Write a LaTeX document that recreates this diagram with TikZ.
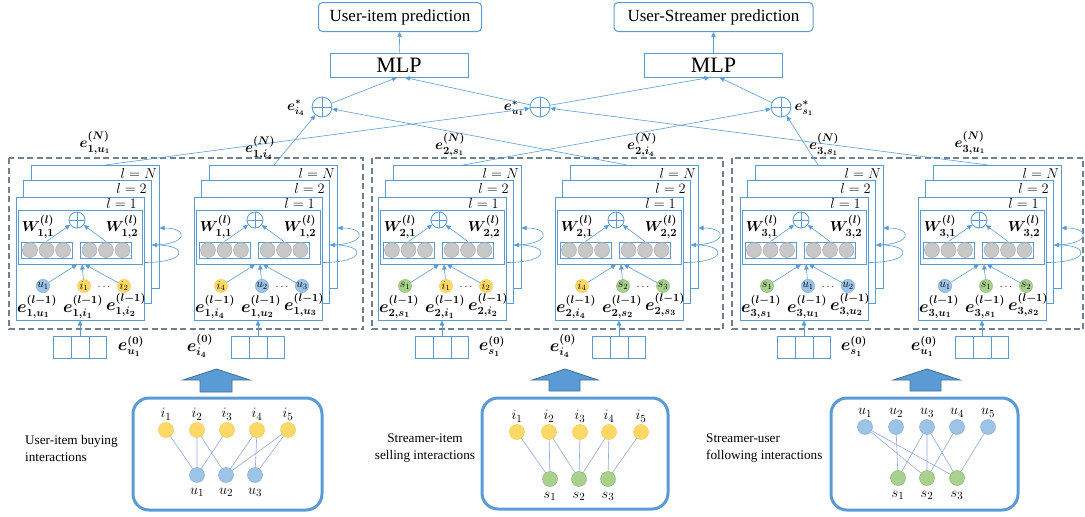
\documentclass[tikz,border=0pt]{standalone}
\usepackage{amsmath}
\usepackage{bm}
\usepackage{fontspec}
\setmainfont{Liberation Serif}
\usepackage{tikz}
\usetikzlibrary{arrows.meta}

\definecolor{lineblue}{HTML}{5B9BD5}
\definecolor{edgeblue}{HTML}{8FAADC}
\definecolor{dashgray}{HTML}{6F8090}
\definecolor{ufill}{HTML}{9DC3E6}
\definecolor{uedge}{HTML}{7FA7D4}
\definecolor{ifill}{HTML}{FFD966}
\definecolor{iedge}{HTML}{F2C14E}
\definecolor{sfill}{HTML}{A9D18E}
\definecolor{sedge}{HTML}{7FAF5F}
\definecolor{cellgray}{HTML}{C8C8C8}
\definecolor{arrowdark}{HTML}{41719C}

\tikzstyle{conn}=[lineblue, line width=0.6pt, -{Triangle[length=5pt,width=4.5pt]}]
\tikzstyle{gcnlayer}=[draw=lineblue, fill=white, line width=1pt, minimum width=128pt, minimum height=123pt, inner sep=0pt]
\tikzstyle{aggbox}=[draw=lineblue, line width=1pt, minimum width=124pt, minimum height=54pt, inner sep=0pt]
\tikzstyle{membox}=[draw=lineblue, line width=1pt, minimum width=51pt, minimum height=16pt, inner sep=0pt]
\tikzstyle{cell}=[draw=gray!70, fill=cellgray, line width=0.4pt]
\tikzstyle{sumnode}=[circle, draw=lineblue, fill=white, line width=0.8pt, minimum size=16pt, inner sep=0pt,
  path picture={\draw[lineblue, line width=0.6pt] (path picture bounding box.north) -- (path picture bounding box.south)
  (path picture bounding box.west) -- (path picture bounding box.east);}]
\tikzstyle{unode}=[circle, draw=uedge, fill=ufill, minimum size=13pt, inner sep=0pt, font=\fontsize{12}{12}\selectfont]
\tikzstyle{inode}=[circle, draw=iedge, fill=ifill, minimum size=13pt, inner sep=0pt, font=\fontsize{12}{12}\selectfont]
\tikzstyle{snode}=[circle, draw=sedge, fill=sfill, minimum size=13pt, inner sep=0pt, font=\fontsize{12}{12}\selectfont]
\tikzstyle{gu}=[circle, draw=uedge, fill=ufill, minimum size=15pt, inner sep=0pt]
\tikzstyle{gi}=[circle, draw=iedge, fill=ifill, minimum size=15pt, inner sep=0pt]
\tikzstyle{gs}=[circle, draw=sedge, fill=sfill, minimum size=15pt, inner sep=0pt]
\tikzstyle{glbl}=[inner sep=0pt, font=\fontsize{15}{15}\selectfont]
\tikzstyle{bip}=[edgeblue, line width=0.6pt]
\tikzstyle{elbl}=[inner sep=0pt, font=\fontsize{16}{16}\selectfont]
\tikzstyle{nlbl}=[inner sep=0pt, font=\fontsize{15}{15}\selectfont]
\tikzstyle{wlbl}=[inner sep=0pt, font=\fontsize{15}{15}\selectfont]
\tikzstyle{slbl}=[inner sep=0pt, font=\fontsize{14}{14}\selectfont]
\tikzstyle{llbl}=[inner sep=0pt, anchor=east, font=\fontsize{14}{14}\selectfont]
\tikzstyle{dotlbl}=[inner sep=0pt, font=\fontsize{11}{11}\selectfont]
\tikzstyle{vecbox}=[draw=lineblue, line width=1pt, minimum width=53pt, minimum height=22pt, inner sep=0pt]
\tikzstyle{vecline}=[lineblue, line width=1pt]
\tikzstyle{groupbox}=[draw=dashgray, line width=1.3pt, dash pattern=on 6pt off 3.5pt]
\tikzstyle{predbox}=[draw=lineblue, rounded corners=4pt, line width=1pt, minimum height=29pt, inner sep=0pt, font=\fontsize{17}{17}\selectfont]
\tikzstyle{mlpbox}=[draw=lineblue, line width=1pt, minimum width=138pt, minimum height=24pt, inner sep=0pt, font=\fontsize{22}{22}\selectfont]
\tikzstyle{gbox}=[draw=lineblue, line width=3pt, rounded corners=16pt, inner sep=0pt]
\tikzstyle{bigarrow}=[fill=lineblue, draw=arrowdark, line width=0.8pt]
\tikzstyle{itext}=[inner sep=0pt, font=\fontsize{13.2}{17}\selectfont]

\begin{document}
\begin{tikzpicture}[x=1pt,y=-1pt]
  \useasboundingbox (0,0) rectangle (1085,517);

  % prediction heads
  \node[predbox, minimum width=163pt] (pred1) at (400,17) {User-item prediction};
  \node[predbox, minimum width=199pt] (pred2) at (713.5,17) {User-Streamer prediction};
  \node[mlpbox] (mlp1) at (399,65) {MLP};
  \node[mlpbox] (mlp2) at (713.5,65) {MLP};
  \node[sumnode, minimum size=20pt] (pi4) at (322,107) {};
  \node[sumnode, minimum size=20pt] (pu1) at (540,107) {};
  \node[sumnode, minimum size=20pt] (ps1) at (781,107) {};
  \node[slbl] (li4) at (296,108) {$\bm{e^{*}_{i_4}}$};
  \node[slbl] (lu1) at (514,108) {$\bm{e^{*}_{u_1}}$};
  \node[slbl] (ls1) at (804,108) {$\bm{e^{*}_{s_1}}$};
  \draw[conn] (mlp1) -- (pred1);
  \draw[conn] (mlp2) -- (pred2);
  \draw[conn] (pi4) -- ([xshift=-2pt]mlp1.south);
  \draw[conn] (pu1) -- ([xshift=6pt]mlp1.south);
  \draw[conn] (pu1) -- ([xshift=-4pt]mlp2.south);
  \draw[conn] (ps1) -- ([xshift=6pt]mlp2.south);

  % dashed groups
  \draw[groupbox] (9,158) rectangle (363,329);
  \draw[groupbox] (372,158) rectangle (723,329);
  \draw[groupbox] (732,158) rectangle (1083,329);

  % group 1, user u1
  \begin{scope}[xshift=80]
    \node[gcnlayer] (lN) at (15,226.5) {};
    \node[gcnlayer] (l2) at (7.5,241.5) {};
    \node[gcnlayer] (l1) at (0,258.5) {};
    \node[llbl] (tN) at (77,173) {$l=N$};
    \node[llbl] (t2) at (67,188) {$l=2$};
    \node[llbl] (t1) at (57,203) {$l=1$};
    \node[aggbox] (agg) at (0,237) {};
    \node[sumnode] (sum) at (-3,220) {};
    \node[wlbl] (w1) at (-42,227) {$\bm{W^{(l)}_{1,1}}$};
    \node[wlbl] (w2) at (42,227) {$\bm{W^{(l)}_{1,2}}$};
    \node[membox] (mL) at (-33.5,250) {};
    \node[membox] (mR) at (26,250) {};
    \draw[cell] (-50,250) circle[radius=7.5pt] (-33.5,250) circle[radius=7.5pt] (-17,250) circle[radius=7.5pt];
    \draw[cell] (9.5,250) circle[radius=7.5pt] (26,250) circle[radius=7.5pt] (42.5,250) circle[radius=7.5pt];
    \draw[conn] (mL.north) -- (sum);
    \draw[conn] (mR.north) -- (sum);
    \node[unode] (a) at (-37,286) {$u_1$};
    \node[inode] (b) at (4,286) {$i_1$};
    \node[dotlbl] (d) at (25,287) {$\dots$};
    \node[inode] (c) at (44,286) {$i_2$};
    \node[elbl] (ea) at (-43,307) {$\bm{e^{(l-1)}_{1,u_1}}$};
    \node[elbl] (eb) at (3,307) {$\bm{e^{(l-1)}_{1,i_1}}$};
    \node[elbl] (ec) at (46,305) {$\bm{e^{(l-1)}_{1,i_2}}$};
    \draw[conn] (a) -- ([xshift=-3pt]agg.south);
    \draw[conn] (b) -- ([xshift=2pt]agg.south);
    \draw[conn] (c) -- ([xshift=5pt]agg.south);
    \draw[conn] ([yshift=-4pt]l1.east) .. controls +(44,0) and +(36,0) .. ([yshift=-3.5pt]l2.east);
    \draw[conn] ([yshift=-3.5pt]l2.east) .. controls +(36,0) and +(30,0) .. ([yshift=-1.5pt]lN.east);
    \node[vecbox] (v) at (0,347) {};
    \draw[vecline] (v.north) ++(-9,0) -- ++(0,22) (v.north) ++(9,0) -- ++(0,22);
    \draw[conn] (v) -- (l1);
    \node[elbl] (v0) at (51,346) {$\bm{e^{(0)}_{u_1}}$};
    \coordinate (t1a) at (25,165);
  \end{scope}

  % group 1, item i4
  \begin{scope}[xshift=258]
    \node[gcnlayer] (lN) at (15,226.5) {};
    \node[gcnlayer] (l2) at (7.5,241.5) {};
    \node[gcnlayer] (l1) at (0,258.5) {};
    \node[llbl] (tN) at (77,173) {$l=N$};
    \node[llbl] (t2) at (67,188) {$l=2$};
    \node[llbl] (t1) at (57,203) {$l=1$};
    \node[aggbox] (agg) at (0,237) {};
    \node[sumnode] (sum) at (-3,220) {};
    \node[wlbl] (w1) at (-42,227) {$\bm{W^{(l)}_{1,1}}$};
    \node[wlbl] (w2) at (42,227) {$\bm{W^{(l)}_{1,2}}$};
    \node[membox] (mL) at (-33.5,250) {};
    \node[membox] (mR) at (26,250) {};
    \draw[cell] (-50,250) circle[radius=7.5pt] (-33.5,250) circle[radius=7.5pt] (-17,250) circle[radius=7.5pt];
    \draw[cell] (9.5,250) circle[radius=7.5pt] (26,250) circle[radius=7.5pt] (42.5,250) circle[radius=7.5pt];
    \draw[conn] (mL.north) -- (sum);
    \draw[conn] (mR.north) -- (sum);
    \node[inode] (a) at (-37,286) {$i_4$};
    \node[unode] (b) at (4,286) {$u_2$};
    \node[dotlbl] (d) at (25,287) {$\dots$};
    \node[unode] (c) at (44,286) {$u_3$};
    \node[elbl] (ea) at (-43,307) {$\bm{e^{(l-1)}_{1,i_4}}$};
    \node[elbl] (eb) at (3,307) {$\bm{e^{(l-1)}_{1,u_2}}$};
    \node[elbl] (ec) at (46,305) {$\bm{e^{(l-1)}_{1,u_3}}$};
    \draw[conn] (a) -- ([xshift=-3pt]agg.south);
    \draw[conn] (b) -- ([xshift=2pt]agg.south);
    \draw[conn] (c) -- ([xshift=5pt]agg.south);
    \draw[conn] ([yshift=-4pt]l1.east) .. controls +(44,0) and +(36,0) .. ([yshift=-3.5pt]l2.east);
    \draw[conn] ([yshift=-3.5pt]l2.east) .. controls +(36,0) and +(30,0) .. ([yshift=-1.5pt]lN.east);
    \node[vecbox] (v) at (0,347) {};
    \draw[vecline] (v.north) ++(-9,0) -- ++(0,22) (v.north) ++(9,0) -- ++(0,22);
    \draw[conn] (v) -- (l1);
    \node[elbl] (v0) at (-58,346) {$\bm{e^{(0)}_{i_4}}$};
    \coordinate (t1b) at (16,165);
  \end{scope}

  % group 2, streamer s1
  \begin{scope}[xshift=442]
    \node[gcnlayer] (lN) at (15,226.5) {};
    \node[gcnlayer] (l2) at (7.5,241.5) {};
    \node[gcnlayer] (l1) at (0,258.5) {};
    \node[llbl] (tN) at (77,173) {$l=N$};
    \node[llbl] (t2) at (67,188) {$l=2$};
    \node[llbl] (t1) at (57,203) {$l=1$};
    \node[aggbox] (agg) at (0,237) {};
    \node[sumnode] (sum) at (-3,220) {};
    \node[wlbl] (w1) at (-42,227) {$\bm{W^{(l)}_{2,1}}$};
    \node[wlbl] (w2) at (42,227) {$\bm{W^{(l)}_{2,2}}$};
    \node[membox] (mL) at (-33.5,250) {};
    \node[membox] (mR) at (26,250) {};
    \draw[cell] (-50,250) circle[radius=7.5pt] (-33.5,250) circle[radius=7.5pt] (-17,250) circle[radius=7.5pt];
    \draw[cell] (9.5,250) circle[radius=7.5pt] (26,250) circle[radius=7.5pt] (42.5,250) circle[radius=7.5pt];
    \draw[conn] (mL.north) -- (sum);
    \draw[conn] (mR.north) -- (sum);
    \node[snode] (a) at (-37,286) {$s_1$};
    \node[inode] (b) at (4,286) {$i_1$};
    \node[dotlbl] (d) at (25,287) {$\dots$};
    \node[inode] (c) at (44,286) {$i_2$};
    \node[elbl] (ea) at (-43,307) {$\bm{e^{(l-1)}_{2,s_1}}$};
    \node[elbl] (eb) at (3,307) {$\bm{e^{(l-1)}_{2,i_1}}$};
    \node[elbl] (ec) at (46,305) {$\bm{e^{(l-1)}_{2,i_2}}$};
    \draw[conn] (a) -- ([xshift=-3pt]agg.south);
    \draw[conn] (b) -- ([xshift=2pt]agg.south);
    \draw[conn] (c) -- ([xshift=5pt]agg.south);
    \draw[conn] ([yshift=-4pt]l1.east) .. controls +(44,0) and +(36,0) .. ([yshift=-3.5pt]l2.east);
    \draw[conn] ([yshift=-3.5pt]l2.east) .. controls +(36,0) and +(30,0) .. ([yshift=-1.5pt]lN.east);
    \node[vecbox] (v) at (0,347) {};
    \draw[vecline] (v.north) ++(-9,0) -- ++(0,22) (v.north) ++(9,0) -- ++(0,22);
    \draw[conn] (v) -- (l1);
    \node[elbl] (v0) at (50,346) {$\bm{e^{(0)}_{s_1}}$};
    \coordinate (t2a) at (21,165);
  \end{scope}

  % group 2, item i4
  \begin{scope}[xshift=619]
    \node[gcnlayer] (lN) at (15,226.5) {};
    \node[gcnlayer] (l2) at (7.5,241.5) {};
    \node[gcnlayer] (l1) at (0,258.5) {};
    \node[llbl] (tN) at (77,173) {$l=N$};
    \node[llbl] (t2) at (67,188) {$l=2$};
    \node[llbl] (t1) at (57,203) {$l=1$};
    \node[aggbox] (agg) at (0,237) {};
    \node[sumnode] (sum) at (-3,220) {};
    \node[wlbl] (w1) at (-42,227) {$\bm{W^{(l)}_{2,1}}$};
    \node[wlbl] (w2) at (42,227) {$\bm{W^{(l)}_{2,2}}$};
    \node[membox] (mL) at (-33.5,250) {};
    \node[membox] (mR) at (26,250) {};
    \draw[cell] (-50,250) circle[radius=7.5pt] (-33.5,250) circle[radius=7.5pt] (-17,250) circle[radius=7.5pt];
    \draw[cell] (9.5,250) circle[radius=7.5pt] (26,250) circle[radius=7.5pt] (42.5,250) circle[radius=7.5pt];
    \draw[conn] (mL.north) -- (sum);
    \draw[conn] (mR.north) -- (sum);
    \node[inode] (a) at (-37,286) {$i_4$};
    \node[snode] (b) at (4,286) {$s_2$};
    \node[dotlbl] (d) at (25,287) {$\dots$};
    \node[snode] (c) at (44,286) {$s_3$};
    \node[elbl] (ea) at (-43,307) {$\bm{e^{(l-1)}_{2,i_4}}$};
    \node[elbl] (eb) at (3,307) {$\bm{e^{(l-1)}_{2,s_2}}$};
    \node[elbl] (ec) at (46,305) {$\bm{e^{(l-1)}_{2,s_3}}$};
    \draw[conn] (a) -- ([xshift=-3pt]agg.south);
    \draw[conn] (b) -- ([xshift=2pt]agg.south);
    \draw[conn] (c) -- ([xshift=5pt]agg.south);
    \draw[conn] ([yshift=-4pt]l1.east) .. controls +(44,0) and +(36,0) .. ([yshift=-3.5pt]l2.east);
    \draw[conn] ([yshift=-3.5pt]l2.east) .. controls +(36,0) and +(30,0) .. ([yshift=-1.5pt]lN.east);
    \node[vecbox] (v) at (0,347) {};
    \draw[vecline] (v.north) ++(-9,0) -- ++(0,22) (v.north) ++(9,0) -- ++(0,22);
    \draw[conn] (v) -- (l1);
    \node[elbl] (v0) at (-56,346) {$\bm{e^{(0)}_{i_4}}$};
    \coordinate (t2b) at (8,165);
  \end{scope}

  % group 3, streamer s1
  \begin{scope}[xshift=804]
    \node[gcnlayer] (lN) at (15,226.5) {};
    \node[gcnlayer] (l2) at (7.5,241.5) {};
    \node[gcnlayer] (l1) at (0,258.5) {};
    \node[llbl] (tN) at (77,173) {$l=N$};
    \node[llbl] (t2) at (67,188) {$l=2$};
    \node[llbl] (t1) at (57,203) {$l=1$};
    \node[aggbox] (agg) at (0,237) {};
    \node[sumnode] (sum) at (-3,220) {};
    \node[wlbl] (w1) at (-42,227) {$\bm{W^{(l)}_{3,1}}$};
    \node[wlbl] (w2) at (42,227) {$\bm{W^{(l)}_{3,2}}$};
    \node[membox] (mL) at (-33.5,250) {};
    \node[membox] (mR) at (26,250) {};
    \draw[cell] (-50,250) circle[radius=7.5pt] (-33.5,250) circle[radius=7.5pt] (-17,250) circle[radius=7.5pt];
    \draw[cell] (9.5,250) circle[radius=7.5pt] (26,250) circle[radius=7.5pt] (42.5,250) circle[radius=7.5pt];
    \draw[conn] (mL.north) -- (sum);
    \draw[conn] (mR.north) -- (sum);
    \node[snode] (a) at (-37,286) {$s_1$};
    \node[unode] (b) at (4,286) {$u_1$};
    \node[dotlbl] (d) at (25,287) {$\dots$};
    \node[unode] (c) at (44,286) {$u_2$};
    \node[elbl] (ea) at (-43,307) {$\bm{e^{(l-1)}_{3,s_1}}$};
    \node[elbl] (eb) at (3,307) {$\bm{e^{(l-1)}_{3,u_1}}$};
    \node[elbl] (ec) at (46,305) {$\bm{e^{(l-1)}_{3,u_2}}$};
    \draw[conn] (a) -- ([xshift=-3pt]agg.south);
    \draw[conn] (b) -- ([xshift=2pt]agg.south);
    \draw[conn] (c) -- ([xshift=5pt]agg.south);
    \draw[conn] ([yshift=-4pt]l1.east) .. controls +(44,0) and +(36,0) .. ([yshift=-3.5pt]l2.east);
    \draw[conn] ([yshift=-3.5pt]l2.east) .. controls +(36,0) and +(30,0) .. ([yshift=-1.5pt]lN.east);
    \node[vecbox] (v) at (0,347) {};
    \draw[vecline] (v.north) ++(-9,0) -- ++(0,22) (v.north) ++(9,0) -- ++(0,22);
    \draw[conn] (v) -- (l1);
    \node[elbl] (v0) at (50,346) {$\bm{e^{(0)}_{s_1}}$};
    \coordinate (t3a) at (14,165);
  \end{scope}

  % group 3, user u1
  \begin{scope}[xshift=982]
    \node[gcnlayer] (lN) at (15,226.5) {};
    \node[gcnlayer] (l2) at (7.5,241.5) {};
    \node[gcnlayer] (l1) at (0,258.5) {};
    \node[llbl] (tN) at (77,173) {$l=N$};
    \node[llbl] (t2) at (67,188) {$l=2$};
    \node[llbl] (t1) at (57,203) {$l=1$};
    \node[aggbox] (agg) at (0,237) {};
    \node[sumnode] (sum) at (-3,220) {};
    \node[wlbl] (w1) at (-42,227) {$\bm{W^{(l)}_{3,1}}$};
    \node[wlbl] (w2) at (42,227) {$\bm{W^{(l)}_{3,2}}$};
    \node[membox] (mL) at (-33.5,250) {};
    \node[membox] (mR) at (26,250) {};
    \draw[cell] (-50,250) circle[radius=7.5pt] (-33.5,250) circle[radius=7.5pt] (-17,250) circle[radius=7.5pt];
    \draw[cell] (9.5,250) circle[radius=7.5pt] (26,250) circle[radius=7.5pt] (42.5,250) circle[radius=7.5pt];
    \draw[conn] (mL.north) -- (sum);
    \draw[conn] (mR.north) -- (sum);
    \node[unode] (a) at (-37,286) {$u_1$};
    \node[snode] (b) at (4,286) {$s_1$};
    \node[dotlbl] (d) at (25,287) {$\dots$};
    \node[snode] (c) at (44,286) {$s_2$};
    \node[elbl] (ea) at (-43,307) {$\bm{e^{(l-1)}_{3,u_1}}$};
    \node[elbl] (eb) at (3,307) {$\bm{e^{(l-1)}_{3,s_1}}$};
    \node[elbl] (ec) at (46,305) {$\bm{e^{(l-1)}_{3,s_2}}$};
    \draw[conn] (a) -- ([xshift=-3pt]agg.south);
    \draw[conn] (b) -- ([xshift=2pt]agg.south);
    \draw[conn] (c) -- ([xshift=5pt]agg.south);
    \draw[conn] ([yshift=-4pt]l1.east) .. controls +(44,0) and +(36,0) .. ([yshift=-3.5pt]l2.east);
    \draw[conn] ([yshift=-3.5pt]l2.east) .. controls +(36,0) and +(30,0) .. ([yshift=-1.5pt]lN.east);
    \node[vecbox] (v) at (0,347) {};
    \draw[vecline] (v.north) ++(-9,0) -- ++(0,22) (v.north) ++(9,0) -- ++(0,22);
    \draw[conn] (v) -- (l1);
    \node[elbl] (v0) at (-58,346) {$\bm{e^{(0)}_{u_1}}$};
    \coordinate (t3b) at (6,165);
  \end{scope}

  % final-layer outputs into the sums
  \draw[conn] (t1a) -- (pu1);
  \draw[conn] (t1b) -- (pi4);
  \draw[conn] (t2a) -- (ps1);
  \draw[conn] (t2b) -- (pi4);
  \draw[conn] (t3a) -- (ps1);
  \draw[conn] (t3b) -- (pu1);
  \node[nlbl] (n1a) at (95,143) {$\bm{e^{(N)}_{1,u_1}}$};
  \node[nlbl] (n1b) at (260,148) {$\bm{e^{(N)}_{1,i_4}}$};
  \node[nlbl] (n2a) at (450,145) {$\bm{e^{(N)}_{2,s_1}}$};
  \node[nlbl] (n2b) at (642,145) {$\bm{e^{(N)}_{2,i_4}}$};
  \node[nlbl] (n3a) at (824,145) {$\bm{e^{(N)}_{3,s_1}}$};
  \node[nlbl] (n3b) at (970,143) {$\bm{e^{(N)}_{3,u_1}}$};

  % block arrows
  \draw[bigarrow] (216.5,369) -- (250,380) -- (232,380) -- (232,392) -- (200,392) -- (200,380) -- (183,380) -- cycle;
  \draw[bigarrow] (565,369) -- (598,380) -- (580,380) -- (580,391) -- (549,391) -- (549,380) -- (532,380) -- cycle;
  \draw[bigarrow] (927,369) -- (960,380) -- (941,380) -- (941,391) -- (910,391) -- (910,380) -- (893,380) -- cycle;

  % user-item graph
  \node[gbox, minimum width=189pt, minimum height=112pt] (g1) at (227.5,454) {};
  \node[gi, label={[glbl, label distance=2pt]above:$i_1$}] (x1) at (166,430) {};
  \node[gi, label={[glbl, label distance=2pt]above:$i_2$}] (x2) at (197,430) {};
  \node[gi, label={[glbl, label distance=2pt]above:$i_3$}] (x3) at (227,430) {};
  \node[gi, label={[glbl, label distance=2pt]above:$i_4$}] (x4) at (257,430) {};
  \node[gi, label={[glbl, label distance=2pt]above:$i_5$}] (x5) at (288,430) {};
  \node[gu, label={[glbl, label distance=5pt]below:$u_1$}] (y1) at (197,475) {};
  \node[gu, label={[glbl, label distance=5pt]below:$u_2$}] (y2) at (226,475) {};
  \node[gu, label={[glbl, label distance=5pt]below:$u_3$}] (y3) at (255,475) {};
  \draw[bip] (x1) -- (y1) (x2) -- (y1) (x3) -- (y1) (x2) -- (y2) (x4) -- (y2) (x5) -- (y2) (x4) -- (y3) (x5) -- (y3);
  \node[itext, align=left, anchor=west] (d1) at (25,448.5) {User-item buying\\interactions};

  % streamer-item graph
  \node[gbox, minimum width=186pt, minimum height=111pt] (g2) at (575,453.5) {};
  \node[gi, label={[glbl, label distance=2pt]above:$i_1$}] (x1) at (517,432) {};
  \node[gi, label={[glbl, label distance=2pt]above:$i_2$}] (x2) at (549,432) {};
  \node[gi, label={[glbl, label distance=2pt]above:$i_3$}] (x3) at (580,432) {};
  \node[gi, label={[glbl, label distance=2pt]above:$i_4$}] (x4) at (609,432) {};
  \node[gi, label={[glbl, label distance=2pt]above:$i_5$}] (x5) at (641,432) {};
  \node[gs, label={[glbl, label distance=5pt]below:$s_1$}] (y1) at (550,479) {};
  \node[gs, label={[glbl, label distance=5pt]below:$s_2$}] (y2) at (579,479) {};
  \node[gs, label={[glbl, label distance=5pt]below:$s_3$}] (y3) at (608,479) {};
  \draw[bip] (x1) -- (y1) (x2) -- (y1) (x2) -- (y2) (x3) -- (y2) (x4) -- (y2) (x4) -- (y3) (x5) -- (y3);
  \node[itext, align=center] (d2) at (425,448.5) {Streamer-item\\selling interactions};

  % streamer-user graph
  \node[gbox, minimum width=187pt, minimum height=112pt] (g3) at (924.5,454) {};
  \node[gu, label={[glbl, label distance=2pt]above:$u_1$}] (x1) at (865,427) {};
  \node[gu, label={[glbl, label distance=2pt]above:$u_2$}] (x2) at (896,427) {};
  \node[gu, label={[glbl, label distance=2pt]above:$u_3$}] (x3) at (927,427) {};
  \node[gu, label={[glbl, label distance=2pt]above:$u_4$}] (x4) at (957,427) {};
  \node[gu, label={[glbl, label distance=2pt]above:$u_5$}] (x5) at (988,427) {};
  \node[gs, label={[glbl, label distance=5pt]below:$s_1$}] (y1) at (898,478) {};
  \node[gs, label={[glbl, label distance=5pt]below:$s_2$}] (y2) at (927,478) {};
  \node[gs, label={[glbl, label distance=5pt]below:$s_3$}] (y3) at (957,478) {};
  \draw[bip] (x1) -- (y2) (x1) -- (y3) (x2) -- (y1) (x3) -- (y1) (x3) -- (y2) (x3) -- (y3) (x4) -- (y2) (x5) -- (y3);
  \node[itext, align=left, anchor=west] (d3) at (706,448.5) {Streamer-user\\following interactions};
\end{tikzpicture}
\end{document}
